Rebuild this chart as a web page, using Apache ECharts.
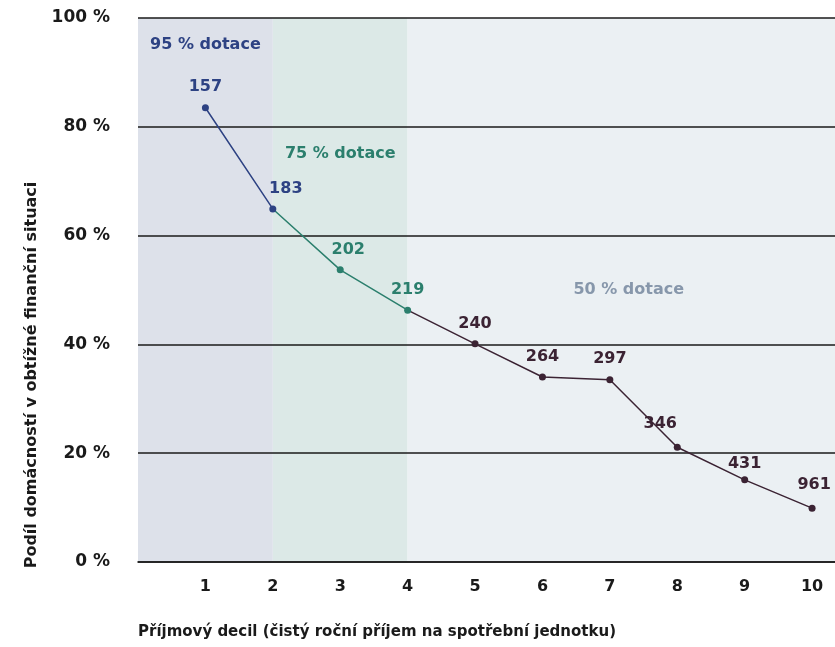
<!DOCTYPE html>
<html>
<head>
<meta charset="utf-8">
<script src="https://cdn.jsdelivr.net/npm/echarts@6/dist/echarts.min.js"></script>
<style>
html,body{margin:0;padding:0;background:#fff;}
#c{width:835px;height:647px;}
</style>
</head>
<body>
<div id="c"></div>
<script>
const deciles = [1, 2, 3, 4, 5, 6, 7, 8, 9, 10];
const shares = [83.5, 64.9, 53.7, 46.3, 40.1, 34.0, 33.5, 21.1, 15.1, 9.9];
const incomeLabels = ['157', '183', '202', '219', '240', '264', '297', '346', '431', '961'];
const yTicks = [0, 20, 40, 60, 80, 100];
const zones = [
  { from: 0, to: 2, name: '95 % dotace', labelX: 1, labelY: 95 },
  { from: 2, to: 4, name: '75 % dotace', labelX: 3, labelY: 75 },
  { from: 4, to: 10.34, name: '50 % dotace', labelX: 7.28, labelY: 50 }
];

const BLUE = '#2d4283', TEAL = '#2b7f6d', MAROON = '#3b2333';
const zoneFill = ['#dde1ea', '#dce9e7', '#ebf0f3'];
const zoneText = [BLUE, TEAL, '#8797ab'];
const FONT = '"DejaVu Sans", sans-serif';
const labelOffsets = [[0,0],[13,0],[8,0],[0,0],[0,0],[0,0],[0,0],[-17,-3],[0,4],[2,-3]];

function colorFor(i) { return i <= 1 ? BLUE : (i <= 3 ? TEAL : MAROON); }

const chart = echarts.init(document.getElementById('c'), null, { renderer: 'canvas' });

const lineData = deciles.map((d, i) => ({
  value: [d, shares[i]],
  itemStyle: { color: colorFor(i) },
  label: { color: colorFor(i), formatter: incomeLabels[i], offset: labelOffsets[i] }
}));

chart.setOption({
  animation: false,
  grid: { left: 138, right: 0, top: 18, bottom: 85, containLabel: false },
  xAxis: {
    type: 'value', min: 0, max: 10.34, interval: 1, z: 4,
    axisLine: { show: true, lineStyle: { color: '#1a1a1a', width: 1.6 } },
    axisTick: { show: false },
    splitLine: { show: false },
    axisLabel: {
      margin: 17, fontFamily: FONT, fontWeight: 'bold', fontSize: 16, color: '#1a1a1a',
      showMaxLabel: false,
      formatter: v => (v >= 1 && v <= 10 && Math.abs(v - Math.round(v)) < 1e-6) ? String(Math.round(v)) : ''
    }
  },
  yAxis: {
    type: 'value', min: 0, max: 100, interval: 20, z: 4,
    axisLine: { show: false }, axisTick: { show: false },
    splitLine: { show: true, lineStyle: { color: '#1a1a1a', width: 1.5 } },
    axisLabel: {
      margin: 28, fontFamily: FONT, fontWeight: 'bold', fontSize: 17, color: '#1a1a1a',
      formatter: v => yTicks.includes(v) ? v + ' %' : ''
    }
  },
  visualMap: {
    show: false, type: 'piecewise', dimension: 0, seriesIndex: 0,
    pieces: [
      { gte: 0, lte: 2, color: BLUE },
      { gt: 2, lte: 4, color: TEAL },
      { gt: 4, color: MAROON }
    ]
  },
  series: [
    {
      type: 'line',
      data: lineData,
      symbol: 'circle', symbolSize: 7,
      lineStyle: { width: 1.5 },
      z: 5,
      label: {
        show: true, position: 'top', distance: 9,
        fontFamily: FONT, fontWeight: 'bold', fontSize: 16
      }
    },
    {
      type: 'scatter',
      symbolSize: 0,
      z: 1,
      itemStyle: { opacity: 1 },
      data: zones.map((z, i) => ({
        value: [z.labelX, z.labelY],
        label: { color: zoneText[i], formatter: z.name }
      })),
      label: {
        show: true, position: 'inside', opacity: 1,
        fontFamily: FONT, fontWeight: 'bold', fontSize: 16
      },
      markArea: {
        silent: true,
        z: 1,
        data: zones.map((z, i) => [
          { xAxis: z.from, itemStyle: { color: zoneFill[i], opacity: 1 } },
          { xAxis: z.to }
        ])
      }
    }
  ],
  graphic: [
    {
      type: 'text', x: 32, y: 375, rotation: Math.PI / 2,
      style: {
        text: 'Podíl domácností v obtížné finanční situaci',
        fill: '#1a1a1a', font: 'bold 16px ' + FONT,
        textAlign: 'center', textVerticalAlign: 'middle'
      }
    },
    {
      type: 'text', x: 138, y: 632,
      style: {
        text: 'Příjmový decil (čistý roční příjem na spotřební jednotku)',
        fill: '#1a1a1a', font: 'bold 15px ' + FONT,
        textAlign: 'left', textVerticalAlign: 'middle'
      }
    }
  ]
});
</script>
</body>
</html>
